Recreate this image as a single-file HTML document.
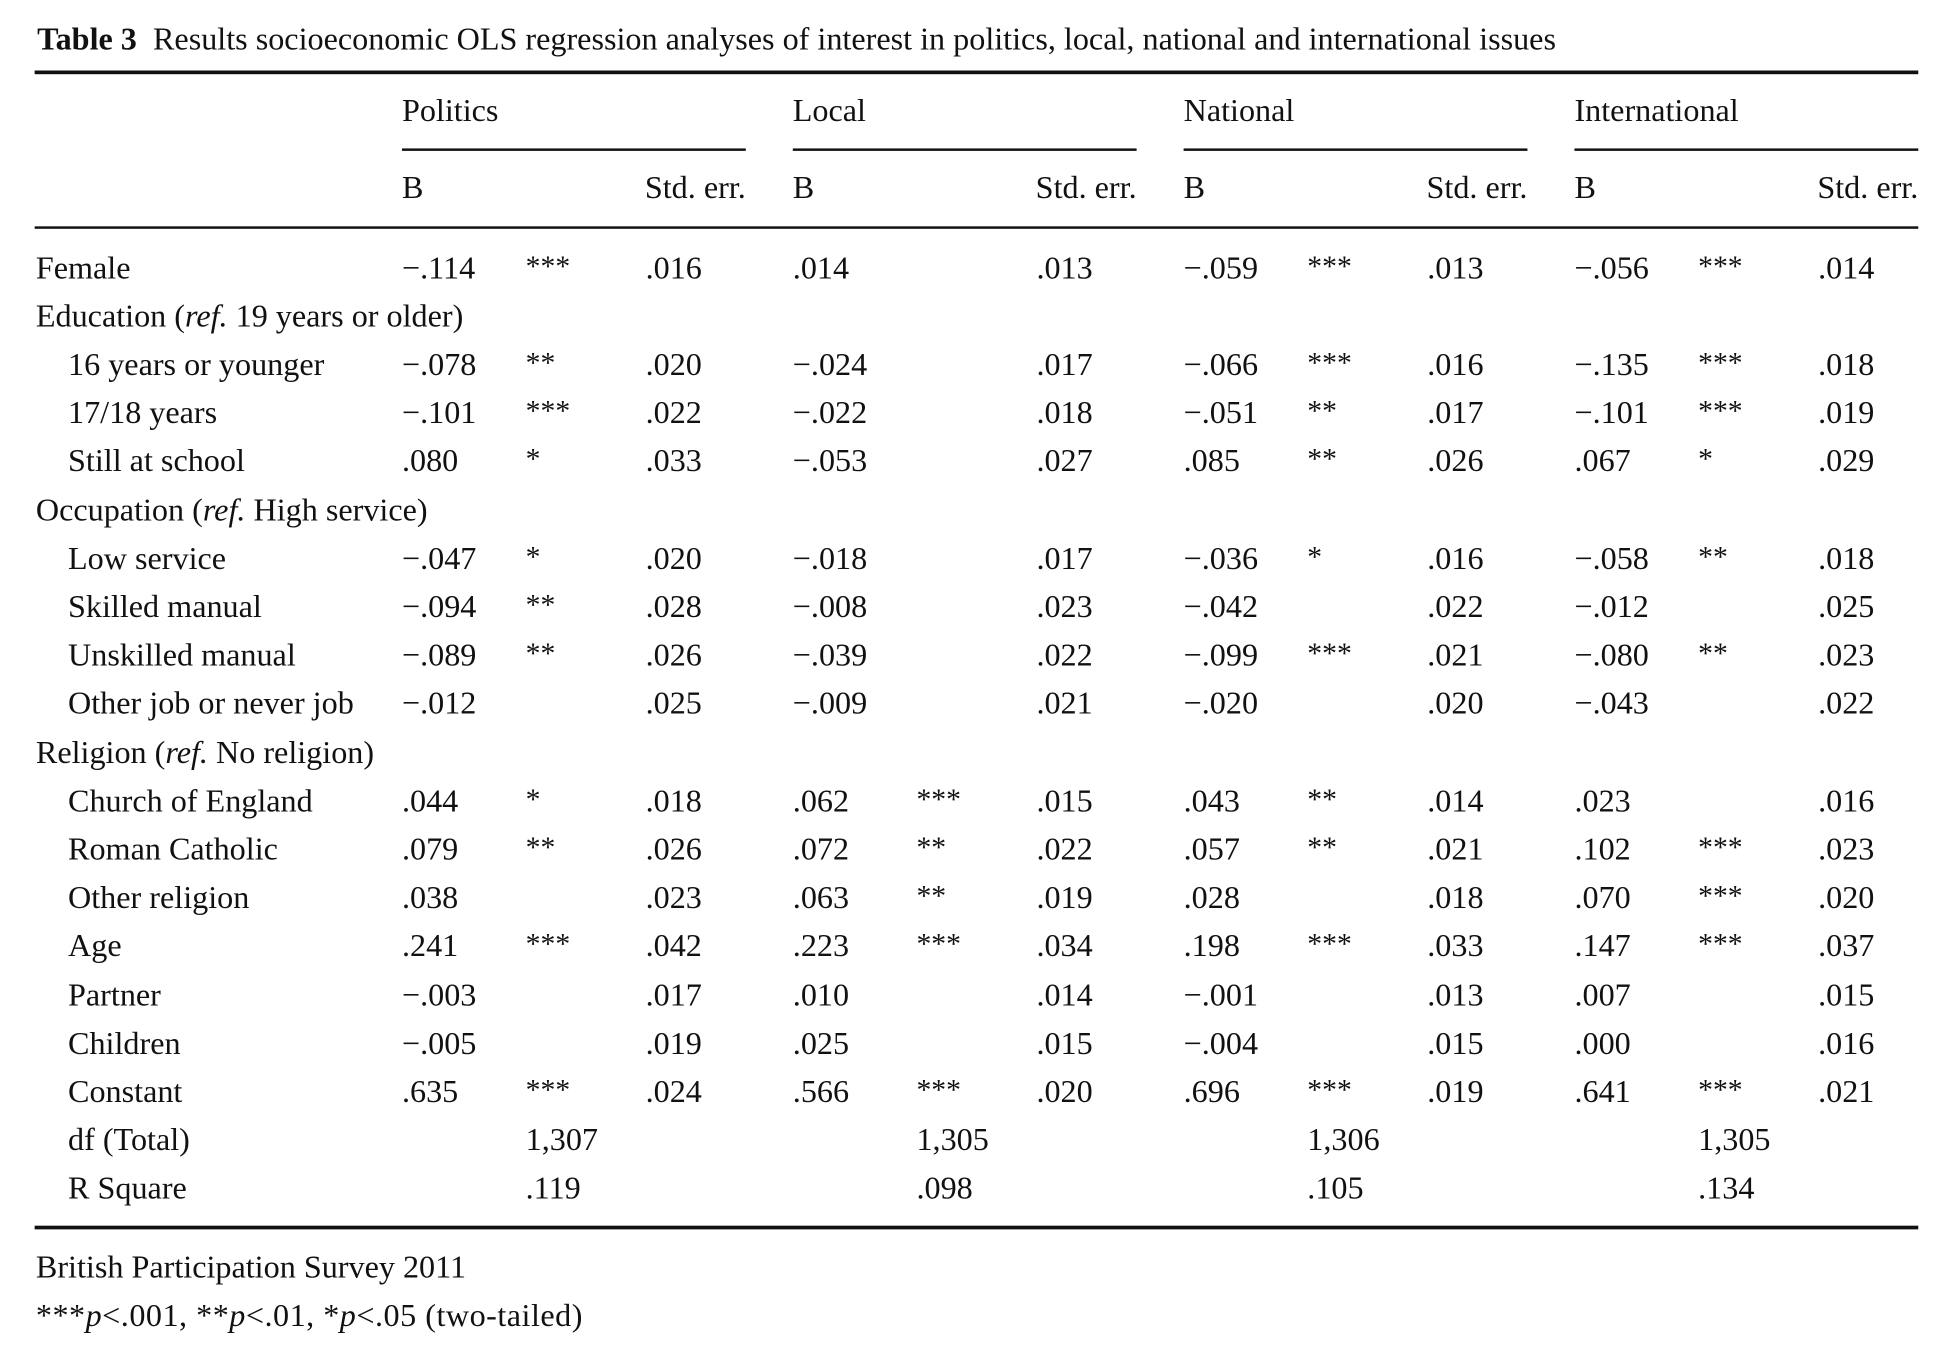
<!DOCTYPE html>
<html><head><meta charset="utf-8">
<style>
html,body{margin:0;padding:0;background:#fff;}
body{width:1940px;height:1352px;overflow:hidden;position:relative;}
#wrap{position:absolute;left:0;top:0;width:1560px;height:1092px;transform:scale(1.2368);transform-origin:0 0;font-family:"Liberation Serif",serif;color:#111;font-size:26px;}
.t{position:absolute;line-height:28px;white-space:nowrap;}
.r{position:absolute;background:#111;}
.st{position:absolute;line-height:28px;white-space:nowrap;font-size:24px;}
</style></head><body>
<div id="wrap">
<div class="t" style="left:30px;top:18px;font-size:26px"><b>Table 3</b>&nbsp;&nbsp;Results socioeconomic OLS regression analyses of interest in politics, local, national and international issues</div>
<div class="r" style="left:28px;top:57px;width:1523px;height:3px"></div>
<div class="r" style="left:28px;top:183px;width:1523px;height:2px"></div>
<div class="r" style="left:28px;top:991px;width:1523px;height:3px"></div>
<div class="t" style="left:29px;top:1011px">British Participation Survey 2011</div>
<div class="t" style="left:29px;top:1050px;letter-spacing:0.4px">***<i>p</i>&lt;.001, **<i>p</i>&lt;.01, *<i>p</i>&lt;.05 (two-tailed)</div>
</div>
<script>
const groups=["Politics","Local","National","International"];
const groupX=[325,641,957,1273];
const rows=[
["Female",0,[["−.114","***",".016"],[".014","",".013"],["−.059","***",".013"],["−.056","***",".014"]]],
["Education (<i>ref.</i> 19 years or older)",0,null],
["16 years or younger",1,[["−.078","**",".020"],["−.024","",".017"],["−.066","***",".016"],["−.135","***",".018"]]],
["17/18 years",1,[["−.101","***",".022"],["−.022","",".018"],["−.051","**",".017"],["−.101","***",".019"]]],
["Still at school",1,[[".080","*",".033"],["−.053","",".027"],[".085","**",".026"],[".067","*",".029"]]],
["Occupation (<i>ref.</i> High service)",0,null],
["Low service",1,[["−.047","*",".020"],["−.018","",".017"],["−.036","*",".016"],["−.058","**",".018"]]],
["Skilled manual",1,[["−.094","**",".028"],["−.008","",".023"],["−.042","",".022"],["−.012","",".025"]]],
["Unskilled manual",1,[["−.089","**",".026"],["−.039","",".022"],["−.099","***",".021"],["−.080","**",".023"]]],
["Other job or never job",1,[["−.012","",".025"],["−.009","",".021"],["−.020","",".020"],["−.043","",".022"]]],
["Religion (<i>ref.</i> No religion)",0,null],
["Church of England",1,[[".044","*",".018"],[".062","***",".015"],[".043","**",".014"],[".023","",".016"]]],
["Roman Catholic",1,[[".079","**",".026"],[".072","**",".022"],[".057","**",".021"],[".102","***",".023"]]],
["Other religion",1,[[".038","",".023"],[".063","**",".019"],[".028","",".018"],[".070","***",".020"]]],
["Age",1,[[".241","***",".042"],[".223","***",".034"],[".198","***",".033"],[".147","***",".037"]]],
["Partner",1,[["−.003","",".017"],[".010","",".014"],["−.001","",".013"],[".007","",".015"]]],
["Children",1,[["−.005","",".019"],[".025","",".015"],["−.004","",".015"],[".000","",".016"]]],
["Constant",1,[[".635","***",".024"],[".566","***",".020"],[".696","***",".019"],[".641","***",".021"]]],
["df (Total)",1,"df",["1,307","1,305","1,306","1,305"]],
["R Square",1,"df",[".119",".098",".105",".134"]]
];
const W=document.getElementById('wrap');
function mk(cls,x,y,html,name){const d=document.createElement('div');d.className=cls;d.style.left=x+'px';d.style.top=y+'px';d.innerHTML=html;


W.appendChild(d);return d;}
groups.forEach((g,i)=>{
 mk('t',groupX[i],76,g,'group-header-'+g.toLowerCase());
 const u=document.createElement('div');u.className='r';u.style.left=groupX[i]+'px';u.style.top='120px';u.style.width='278px';u.style.height='2px';
 
 
 W.appendChild(u);
 mk('t',groupX[i],138,'B','b-column-header');
 const s=mk('t',0,138,'Std. err.','stderr-column-header');s.style.left='';s.style.right=(1560-groupX[i]-278)+'px';
});
rows.forEach((r,k)=>{
 const y=202.5+k*39.2;
 mk('t',r[1]?55:29,y,r[0],'row-label');
 if(r[2]==="df"){r[3].forEach((v,i)=>mk('t',groupX[i]+100,y,v,'model-stat'));return;}
 if(!r[2])return;
 r[2].forEach((c,i)=>{
  mk('t',groupX[i],y,c[0],'coefficient');
  if(c[1])mk('st',groupX[i]+100,y-1,c[1],'significance-stars');
  mk('t',groupX[i]+197,y,c[2],'std-error');
 });
});
</script>
</body></html>
